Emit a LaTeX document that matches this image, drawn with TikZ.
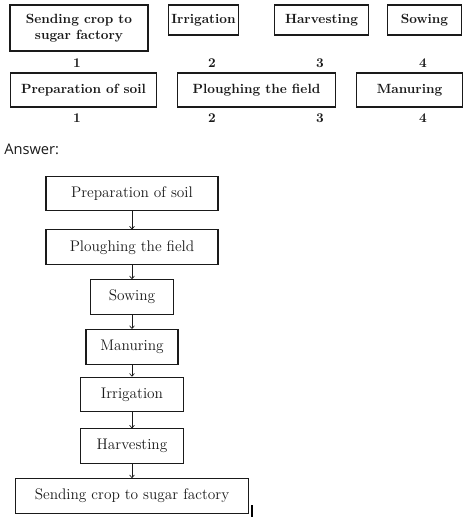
\documentclass[tikz,border=0pt]{standalone}
\usepackage{fontspec}
\usetikzlibrary{arrows.meta,positioning}
\newfontfamily\answerfont{Open Sans}
\definecolor{ink}{HTML}{1A1A1A}

\begin{document}
\begin{tikzpicture}[
    x=0.75pt, y=-0.75pt,
    every node/.style={text=ink},
    qbox/.style={
        rectangle, draw=ink, line width=0.9pt,
        minimum height=22.5pt,
        align=center, font=\bfseries\normalsize,
        inner sep=2pt,
    },
    numlabel/.style={font=\bfseries\normalsize},
    stepbox/.style={
        rectangle, draw=ink, line width=0.8pt,
        minimum height=26pt,
        font=\fontsize{11.5}{14}\selectfont, inner sep=2pt,
    },
    arrow/.style={-{To[length=2.5pt,width=4pt]}, line width=0.5pt, draw=ink},
]

% Background
\fill[white] (0,0) rectangle (470,522);

% =============================================================
% QUESTION: jumbled boxes with numbers
% =============================================================

\node[qbox, minimum width=103.5pt, minimum height=34.5pt] (qsend) at (79,28) {
    Sending crop to\\sugar factory
};
\node[qbox, minimum width=53pt] (qirr) at (203.5,20) {Irrigation};
\node[qbox, minimum width=70pt] (qharv) at (321.5,20) {Harvesting};
\node[qbox, minimum width=56pt] (qsow) at (424.5,20) {Sowing};

\node[numlabel] (na1) at (77,63) {1};
\node[numlabel] (na2) at (212,63) {2};
\node[numlabel] (na3) at (320,63) {3};
\node[numlabel] (na4) at (423,63) {4};

\node[qbox, minimum width=110pt, minimum height=25.5pt] (qprep) at (83.5,90) {Preparation of soil};
\node[qbox, minimum width=118pt, minimum height=25.5pt] (qplough) at (256.5,90) {Ploughing the field};
\node[qbox, minimum width=79pt, minimum height=25.5pt] (qmanure) at (409.5,90) {Manuring};

\node[numlabel] (nb1) at (77,118) {1};
\node[numlabel] (nb2) at (212,118) {2};
\node[numlabel] (nb3) at (320,118) {3};
\node[numlabel] (nb4) at (423,118) {4};

% =============================================================
% ANSWER: flow chart
% =============================================================

\node[font=\answerfont\fontsize{11}{13}\selectfont, anchor=west, inner sep=0pt] (answer) at (4,149) {Answer:};

\node[stepbox, minimum width=129pt] (prep) at (132,193.5) {Preparation of soil};
\node[stepbox, minimum width=129pt, below=13.5pt of prep] (plough) {Ploughing the field};
\node[stepbox, minimum width=62pt, below=10.5pt of plough] (sow) {Sowing};
\node[stepbox, minimum width=69pt, below=10.5pt of sow] (manure) {Manuring};
\node[stepbox, minimum width=77pt, below=9pt of manure] (irr) {Irrigation};
\node[stepbox, minimum width=77pt, below=12pt of irr] (harv) {Harvesting};
\node[stepbox, minimum width=175pt, below=10.5pt of harv] (send) {Sending crop to sugar factory};

\draw[arrow] (prep) -- (plough);
\draw[arrow] (plough) -- (sow);
\draw[arrow] (sow) -- (manure);
\draw[arrow] (manure) -- (irr);
\draw[arrow] (irr) -- (harv);
\draw[arrow] (harv) -- (send);

% stray cursor mark
\coordinate (cursortop) at (252,505);
\coordinate (cursorbot) at (252,517);
\draw[line width=0.8pt] (cursortop) -- (cursorbot);

\end{tikzpicture}
\end{document}
